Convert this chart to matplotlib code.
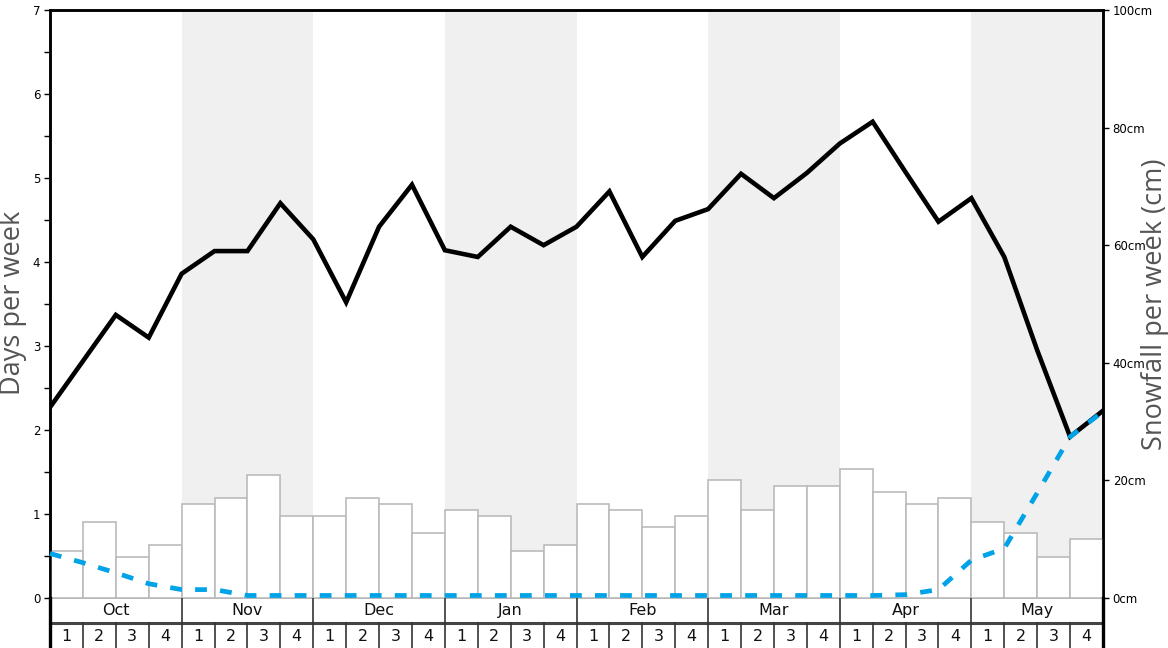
import matplotlib
matplotlib.use("Agg")
import matplotlib.pyplot as plt
import numpy as np

months = ["Oct", "Nov", "Dec", "Jan", "Feb", "Mar", "Apr", "May"]
week_labels = ["1", "2", "3", "4"]
shaded_months = ["Nov", "Jan", "Mar", "May"]

# weekly snowfall (cm), one bar per week
snowfall_cm = [8, 13, 7, 9, 16, 17, 21, 14, 14, 17, 16, 11, 15, 14, 8, 9,
               16, 15, 12, 14, 20, 15, 19, 19, 22, 18, 16, 17, 13, 11, 7, 10]

# days per week (black line), at week boundaries
days_line = [2.27, 2.82, 3.37, 3.10, 3.86, 4.13, 4.13, 4.70, 4.27, 3.52, 4.42,
             4.92, 4.14, 4.06, 4.42, 4.20, 4.42, 4.84, 4.06, 4.49, 4.63, 5.05,
             4.76, 5.06, 5.41, 5.67, 5.07, 4.48, 4.76, 4.06, 2.95, 1.92, 2.23]

# blue dashed line (days per week scale)
blue_line = [0.53, 0.42, 0.30, 0.17, 0.10, 0.10, 0.03, 0.03, 0.03, 0.03, 0.03,
             0.03, 0.03, 0.03, 0.03, 0.03, 0.03, 0.03, 0.03, 0.03, 0.03, 0.03,
             0.03, 0.03, 0.03, 0.03, 0.04, 0.10, 0.45, 0.59, 1.25, 1.92, 2.22]

W, H = 1168, 648
fig = plt.figure(figsize=(W / 100, H / 100), dpi=100)

L, R, T, B = 50, 1103, 10, 598
ax = fig.add_axes([L / W, (H - B) / H, (R - L) / W, (B - T) / H])
nweeks = len(snowfall_cm)
ax.set_xlim(0, nweeks)
ax.set_ylim(0, 7)

# month shading
for i, m in enumerate(months):
    if m in shaded_months:
        ax.axvspan(i * 4, i * 4 + 4, color="#f0f0f0", lw=0, zorder=0)

ax2 = ax.twinx()
ax2.set_ylim(0, 100)

# bars on cm axis
xb = np.arange(nweeks) + 0.5
ax2.bar(xb, snowfall_cm, width=1.0, color="white", edgecolor="#bbbbbb",
        linewidth=1.2, zorder=2)

xl = np.arange(len(days_line))
ax2.plot(xl, np.array(days_line) * 100 / 7, color="black", lw=3.3,
         solid_joinstyle="miter", zorder=3)
ax2.plot(xl, np.array(blue_line) * 100 / 7, color="#00a3e8", lw=3.4,
         linestyle=(0, (2.5, 2.8)), zorder=4, clip_on=False)

# left axis ticks
ax.set_yticks(range(0, 8))
ax.set_yticks(np.arange(0.5, 7, 1.0), minor=True)
ax.tick_params(axis="y", which="major", length=4, width=1, labelsize=8.5, pad=3)
ax.tick_params(axis="y", which="minor", length=4, width=1)
ax.set_xticks([])

ax2.set_yticks(range(0, 101, 20))
ax2.set_yticklabels([f"{v}cm" for v in range(0, 101, 20)])
ax2.tick_params(axis="y", length=4, width=1, labelsize=8.5, pad=3)

for a in (ax, ax2):
    a.spines["bottom"].set_visible(False)
    for s in ("top", "left", "right"):
        a.spines[s].set_linewidth(1.8)
        a.spines[s].set_color("black")

# axis titles
fig.text(13 / W, 1 - 303 / H, "Days per week", rotation=90, ha="center",
         va="center", fontsize=19.5, color="#555555", family="Open Sans")
fig.text(1155 / W, 1 - 304 / H, "Snowfall per week (cm)", rotation=90,
         ha="center", va="center", fontsize=19.5, color="#555555",
         family="Open Sans")

# table of months / weeks below
tab = fig.add_axes([L / W, -2 / H, (R - L) / W, 52 / H])
tab.set_xlim(0, nweeks)
tab.axis("off")
# units of 25px rows, 0 at y=648 pixel
tab.set_ylim(-(650 - 648) / 25, (648 - 598) / 25)
month_top = (648 - 598) / 25
month_bot = (648 - 623) / 25
week_bot = -2
tab.axhline(month_top, color="#aaaaaa", lw=1.2)
tab.axhline(month_bot, color="#444444", lw=2.2)
for i, m in enumerate(months):
    tab.text(i * 4 + 2, (month_top + month_bot) / 2, m, ha="center",
             va="center", fontsize=11.5, color="#111111")
    if i > 0:
        tab.plot([i * 4, i * 4], [week_bot, month_top], color="#333333", lw=1.2)
for w in range(nweeks):
    tab.text(w + 0.5, month_bot - 0.5 - 0.04, week_labels[w % 4], ha="center",
             va="center", fontsize=11.5, color="#111111")
    if w % 4 != 0:
        tab.plot([w, w], [week_bot, month_bot], color="#333333", lw=1.2)
tab.plot([0, 0], [week_bot, month_top], color="black", lw=2.4, clip_on=False)
tab.plot([nweeks, nweeks], [week_bot, month_top], color="black", lw=2.4,
         clip_on=False)

fig.savefig("out.png", dpi=100)
